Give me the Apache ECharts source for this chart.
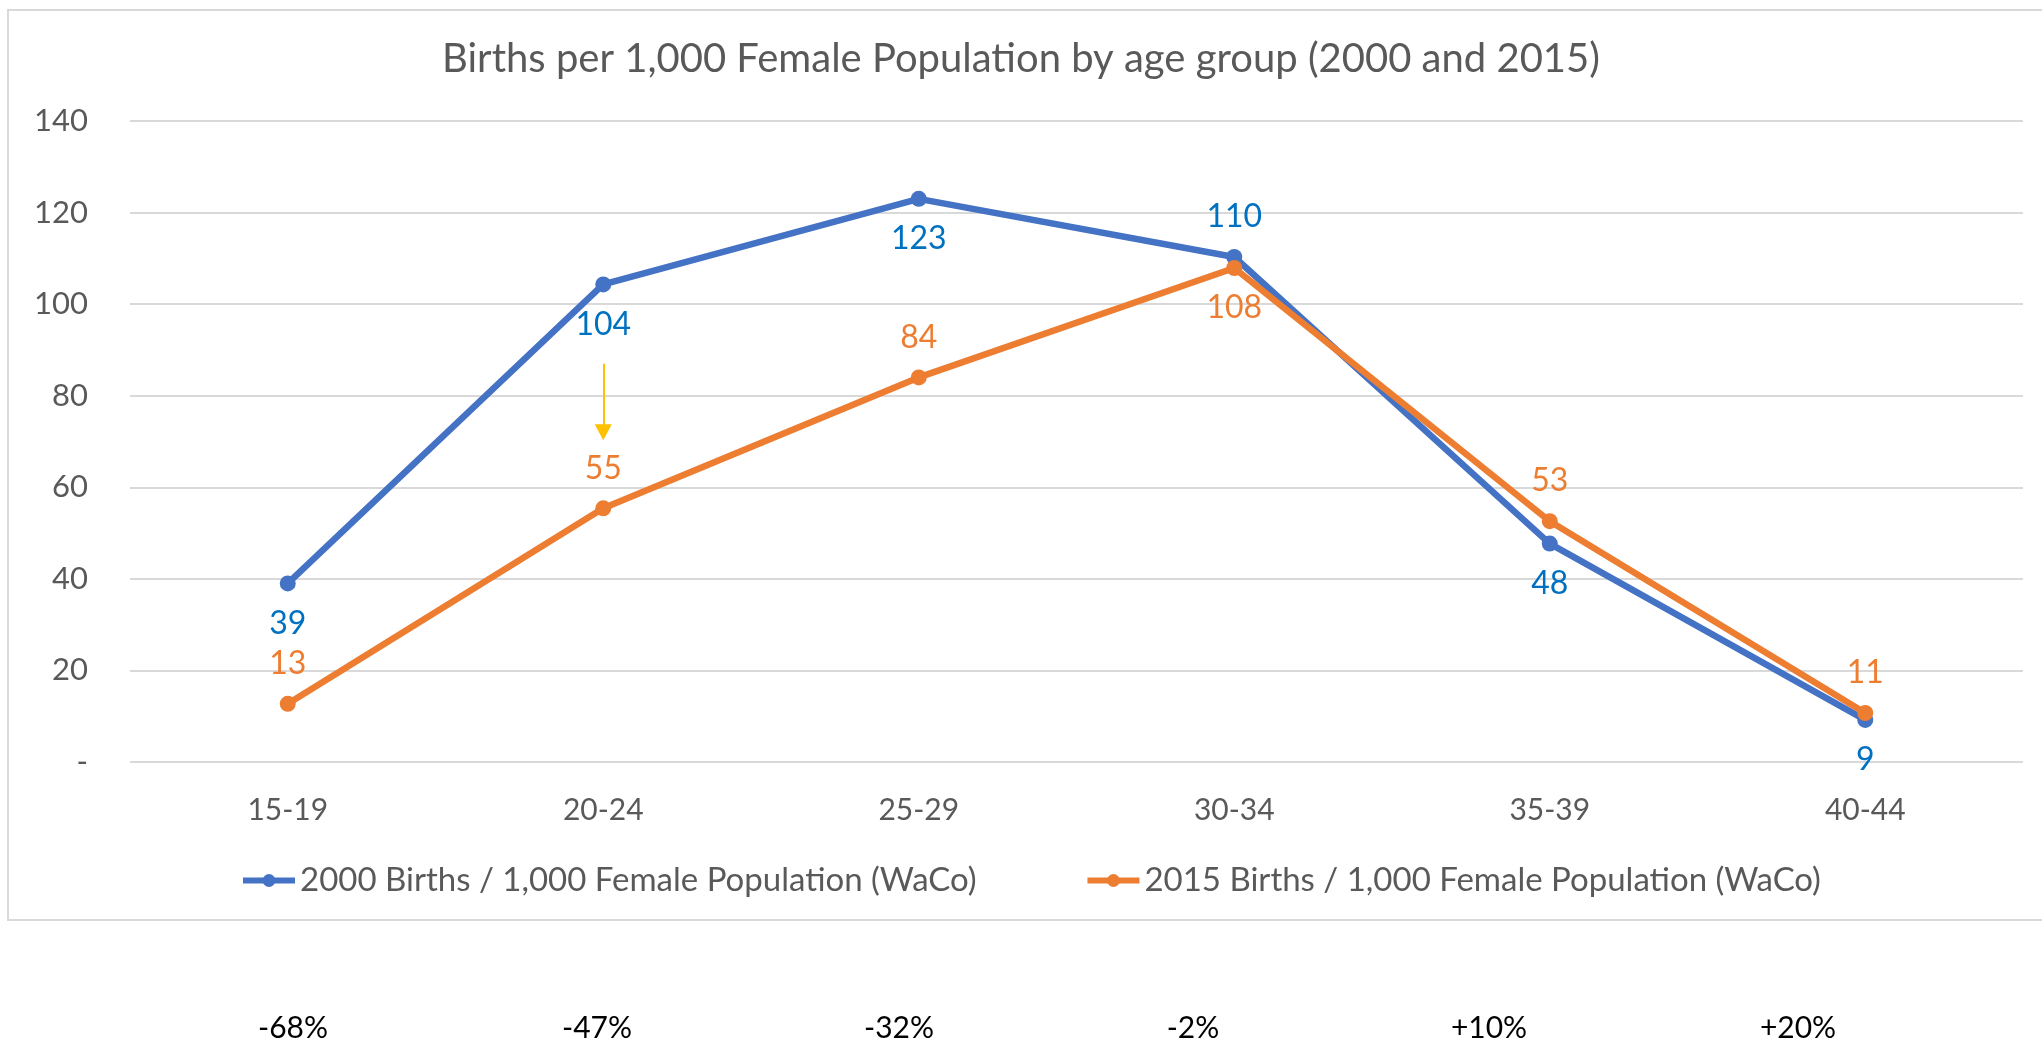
<!DOCTYPE html>
<html>
<head>
<meta charset="utf-8">
<script src="https://cdn.jsdelivr.net/npm/echarts@6/dist/echarts.min.js"></script>
<style>
html,body{margin:0;padding:0;background:#fff;}
#chart{width:2042px;height:1042px;}
</style>
</head>
<body>
<div id="chart"></div>
<script>
const titleText = 'Births per 1,000 Female Population by age group (2000 and 2015)';
const categories = ['15-19', '20-24', '25-29', '30-34', '35-39', '40-44'];
const seriesNames = ['2000 Births / 1,000 Female Population (WaCo)', '2015 Births / 1,000 Female Population (WaCo)'];
const births2000 = [39, 104.3, 123, 110.3, 47.7, 9.2];
const births2015 = [12.7, 55.4, 84, 107.9, 52.6, 10.7];
const changeLabels = ['-68%', '-47%', '-32%', '-2%', '+10%', '+20%'];
const arrowFrom = ['20-24', 87];
const arrowTo = ['20-24', 72];
const yTicks = { min: 0, max: 140, interval: 20 };

// layout / style (not data)
const FONT = 'Lato';
const labelPos2000 = ['bottom', 'bottom', 'bottom', 'top', 'bottom', 'bottom'];
const labelPos2015 = ['top', 'top', 'top', 'bottom', 'top', 'top'];
const changeX = [293, 597, 899, 1193, 1489, 1798];

function buildData(vals, pos) {
  return vals.map((v, i) => ({ value: v, label: { position: pos[i] } }));
}

const chart = echarts.init(document.getElementById('chart'), null, { renderer: 'canvas' });

const graphics = [
  { type: 'rect', shape: { x: 8, y: 10, width: 2060, height: 910 }, style: { fill: 'none', stroke: '#D9D9D9', lineWidth: 2 }, silent: true, z: -1 }
];
changeLabels.forEach((t, i) => {
  graphics.push({ type: 'text', x: changeX[i], y: 1028, style: { text: t, fill: '#000', font: '30px ' + FONT, textAlign: 'center', textVerticalAlign: 'middle' }, silent: true });
});

chart.setOption({
  animation: false,
  backgroundColor: '#fff',
  title: {
    text: titleText,
    left: 'center',
    top: 34,
    padding: [5, 0, 5, 16],
    textStyle: { fontFamily: FONT, fontSize: 40, fontWeight: 'normal', color: '#595959' }
  },
  legend: {
    top: 864,
    left: 240,
    padding: 0,
    itemGap: 108,
    itemWidth: 52,
    itemHeight: 16,
    lineStyle: { width: 6 },
    textStyle: { fontFamily: FONT, fontSize: 33, color: '#595959', padding: [0, 0, 0, 0] },
    data: seriesNames
  },
  grid: { left: 130, right: 19, top: 121, bottom: 280, containLabel: false },
  xAxis: {
    type: 'category',
    data: categories,
    boundaryGap: true,
    axisLine: { show: false },
    axisTick: { show: false },
    axisLabel: { fontFamily: FONT, fontSize: 30, color: '#595959', margin: 33 }
  },
  yAxis: {
    type: 'value',
    min: yTicks.min,
    max: yTicks.max,
    interval: yTicks.interval,
    axisLine: { show: false },
    axisTick: { show: false },
    splitLine: { lineStyle: { color: '#D9D9D9', width: 2 } },
    axisLabel: {
      fontFamily: FONT, fontSize: 31, color: '#595959', margin: 42,
      formatter: v => (v === 0 ? '-' : String(v))
    }
  },
  series: [
    {
      name: seriesNames[0],
      type: 'line',
      data: buildData(births2000, labelPos2000),
      color: '#4472C4',
      symbol: 'circle',
      symbolSize: 16,
      lineStyle: { width: 6.5, color: '#4472C4' },
      itemStyle: { color: '#4472C4' },
      label: {
        show: true, distance: 16, color: '#0070C0', fontFamily: FONT, fontSize: 32,
        formatter: p => Math.round(p.value)
      },
      z: 2
    },
    {
      name: seriesNames[1],
      type: 'line',
      data: buildData(births2015, labelPos2015),
      color: '#ED7D31',
      symbol: 'circle',
      symbolSize: 16,
      lineStyle: { width: 6.5, color: '#ED7D31' },
      itemStyle: { color: '#ED7D31' },
      label: {
        show: true, distance: 16, color: '#ED7D31', fontFamily: FONT, fontSize: 32,
        formatter: p => Math.round(p.value)
      },
      markLine: {
        silent: true,
        symbol: ['none', 'triangle'],
        symbolSize: [17, 16],
        label: { show: false },
        lineStyle: { color: '#FFC000', width: 2, type: 'solid' },
        data: [[{ coord: arrowFrom }, { coord: arrowTo }]]
      },
      z: 3
    }
  ],
  graphic: graphics
});
</script>
</body>
</html>
